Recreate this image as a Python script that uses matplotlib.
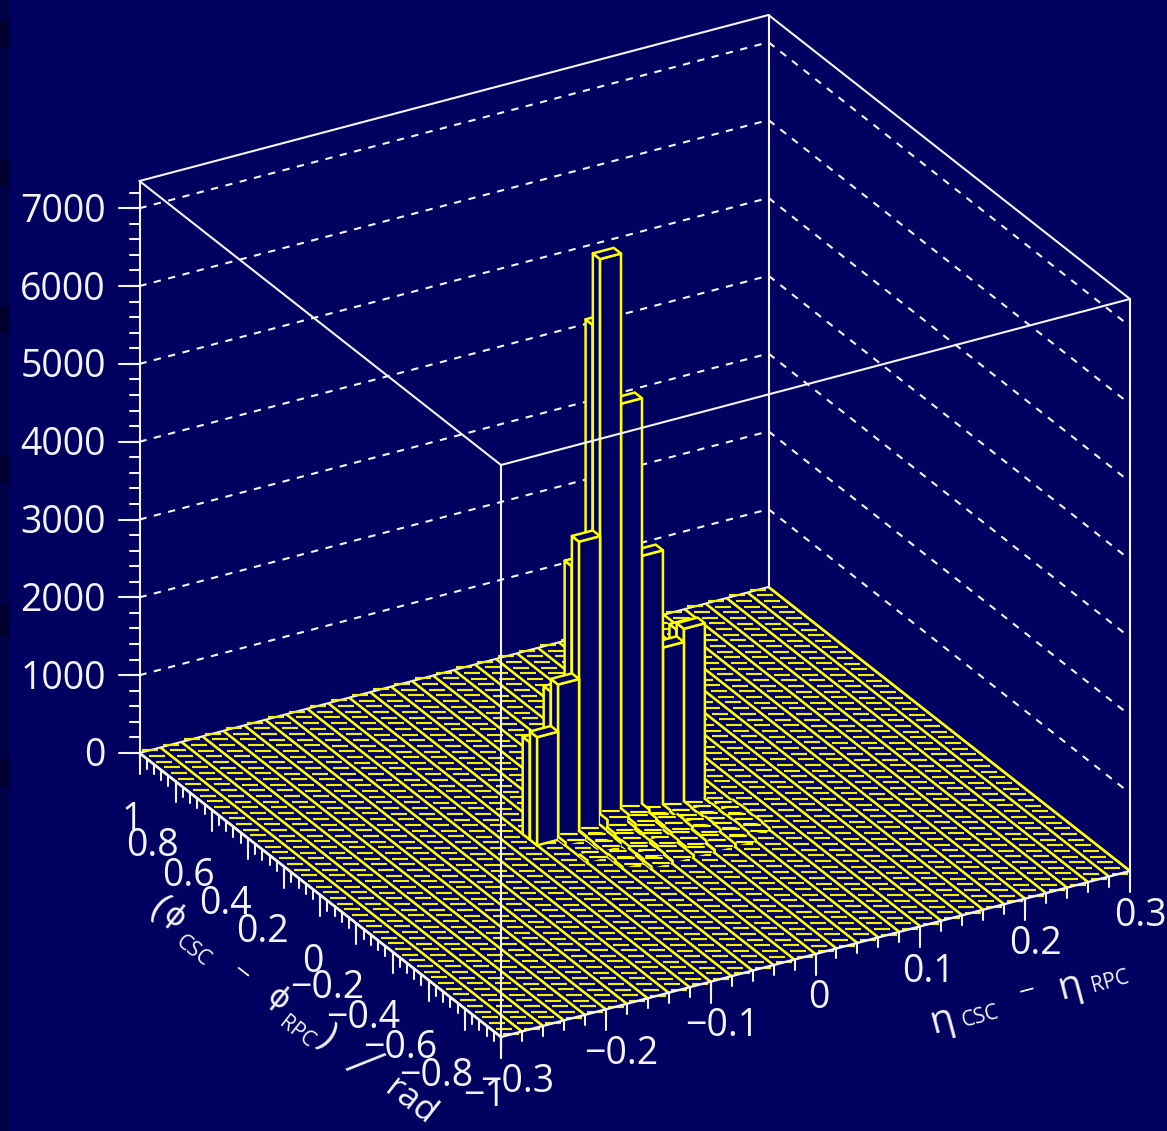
import numpy as np
import matplotlib
matplotlib.use("Agg")
import matplotlib.pyplot as plt
from matplotlib.collections import LineCollection, PolyCollection

# bins of the lego plot
eta_edges = [-0.3 + 0.02 * i for i in range(31)]
phi_edges = [-1 + 0.04 * i for i in range(51)]
z_top = 7350

# tall towers: phi bin -> contents, starting from eta bin 10
tower_first_eta = 10
tower_rows = {
    25: [1250, 1830, 3370, 6400, 4200, 2600, 1500, 2200],
    24: [1390, 1995, 3760, 7320, 5390, 3365, 2115, 2285],
}

# small contents in front of the towers, starting from eta bin 11
low_first_eta = 11
low_rows = {
    23: [40, 50, 190, 180, 100, 70, 30, 0],
    22: [0, 40, 90, 140, 80, 60, 40, 20],
    21: [0, 30, 60, 90, 120, 70, 30, 30],
    20: [30, 0, 70, 60, 110, 90, 40, 20],
    19: [0, 40, 40, 80, 70, 80, 50, 30],
    18: [0, 20, 50, 40, 70, 40, 40, 20],
    17: [0, 0, 30, 40, 30, 40, 20, 0],
}

z_major = [0, 1000, 2000, 3000, 4000, 5000, 6000, 7000]
z_minor = [200 * i for i in range(37)]
eta_major = [-0.3, -0.2, -0.1, 0, 0.1, 0.2, 0.3]
eta_minor = [-0.3 + 0.02 * i for i in range(31)]
phi_major = [-1, -0.8, -0.6, -0.4, -0.2, 0, 0.2, 0.4, 0.6, 0.8, 1]
phi_minor = [-1 + 0.04 * i for i in range(51)]

bg = "#000060"
white = "#f4f4ff"
yellow = "#ffff00"


def project(eta, phi, z=0):
    # parallel projection of the box onto the picture
    u = (eta + 0.3) / 0.6
    v = (phi + 1) / 2
    return 501 + 629 * u - 361.5 * v, 1037 - 166 * u - 284 * v - z * 572 / z_top


fig = plt.figure(figsize=(11.67, 11.31), dpi=100, facecolor=bg)
ax = fig.add_axes([0, 0, 1, 1])
ax.set_xlim(0, 1167)
ax.set_ylim(1131, 0)
ax.axis("off")
plt.rcParams["font.family"] = ["Open Sans", "DejaVu Sans"]

# dark strip on the left edge of the scan
ax.fill_between([0, 9], 0, 1131, color="#000048", lw=0)
for y0, y1 in [(22, 47), (159, 186), (307, 333), (456, 482), (606, 635), (759, 786)]:
    ax.fill_between([0, 9], y0, y1, color="#00002c", lw=0)


def line(p, q, **kw):
    kw.setdefault("color", white)
    kw.setdefault("lw", 1.5)
    ax.plot([p[0], q[0]], [p[1], q[1]], solid_capstyle="round", **kw)


# dashed lines on the back walls
for z in z_major[1:]:
    a = project(-0.3, 1, z)
    b = project(0.3, 1, z)
    c = project(0.3, -1, z)
    ax.plot([a[0], b[0], c[0]], [a[1], b[1], c[1]], color=white, lw=1.5,
            ls=(0, (3.5, 3.6)), dash_capstyle="butt", zorder=1)

# back edges of the box
line(project(0.3, 1), project(0.3, 1, z_top), zorder=1)
line(project(-0.3, 1), project(0.3, 1), zorder=1)
line(project(0.3, 1), project(0.3, -1), zorder=1)
line(project(-0.3, 1), project(-0.3, 1, z_top), zorder=1)
line(project(0.3, -1), project(0.3, -1, z_top), zorder=1)
line(project(-0.3, 1, z_top), project(0.3, 1, z_top), zorder=1)
line(project(0.3, 1, z_top), project(0.3, -1, z_top), zorder=1)

# empty bins: solid lines along phi, short flat dashes along eta
phi_lines = [[project(e, -1), project(e, 1)] for e in eta_edges]
ax.add_collection(LineCollection(phi_lines, colors=yellow, linewidths=1.9, zorder=2))
dashes = []
for i in range(30):
    mid = (eta_edges[i] + eta_edges[i + 1]) / 2
    for p in phi_edges:
        x, y = project(mid, p)
        dashes.append([(x - 8, y), (x + 8, y)])
ax.add_collection(LineCollection(dashes, colors="#f0f000", linewidths=1.55, zorder=2))

# towers, painted from the back to the front
polys = []
for row in sorted(tower_rows, reverse=True):
    vals = tower_rows[row]
    for k in range(len(vals) - 1, -1, -1):
        z = vals[k]
        e0, e1 = eta_edges[tower_first_eta + k], eta_edges[tower_first_eta + k + 1]
        p0, p1 = phi_edges[row], phi_edges[row + 1]
        polys.append([project(e0, p0), project(e0, p1), project(e0, p1, z), project(e0, p0, z)])
        polys.append([project(e0, p0), project(e1, p0), project(e1, p0, z), project(e0, p0, z)])
        polys.append([project(e0, p0, z), project(e1, p0, z), project(e1, p1, z), project(e0, p1, z)])
ax.add_collection(PolyCollection(polys, facecolors=bg, edgecolors=yellow, linewidths=1.8, zorder=3))

# low bins: lifted grid cells which keep the look of the empty ones
order = 4
for row in sorted(low_rows, reverse=True):
    vals = low_rows[row]
    for k in range(len(vals) - 1, -1, -1):
        z = vals[k]
        if z == 0:
            continue
        e0, e1 = eta_edges[low_first_eta + k], eta_edges[low_first_eta + k + 1]
        p0, p1 = phi_edges[row], phi_edges[row + 1]
        outline = [project(e0, p0), project(e0, p1), project(e0, p1, z), project(e1, p1, z),
                   project(e1, p0, z), project(e1, p0)]
        ax.fill([c[0] for c in outline], [c[1] for c in outline], color=bg, lw=0, zorder=order)
        line(project(e0, p0), project(e0, p0, z), color=yellow, lw=1.9, zorder=order)
        line(project(e1, p0), project(e1, p0, z), color=yellow, lw=1.9, zorder=order)
        line(project(e0, p0, z), project(e0, p1, z), color=yellow, lw=1.9, zorder=order)
        line(project(e1, p0, z), project(e1, p1, z), color=yellow, lw=1.9, zorder=order)
        x, y = project((e0 + e1) / 2, p0, z)
        line((x - 8, y), (x + 8, y), color=yellow, lw=1.55, zorder=order)
        x, y = project((e0 + e1) / 2, p1, z)
        line((x - 8, y), (x + 8, y), color=yellow, lw=1.55, zorder=order)
        order += 0.01

# front edges of the box go over the plot
line(project(-0.3, -1), project(-0.3, -1, z_top), zorder=5)
line(project(-0.3, -1, z_top), project(0.3, -1, z_top), zorder=5)
line(project(-0.3, -1, z_top), project(-0.3, 1, z_top), zorder=5)
line(project(-0.3, -1), project(0.3, -1), zorder=5, lw=1.7)
line(project(-0.3, -1), project(-0.3, 1), zorder=5, lw=1.7)

# ticks
for z in z_minor:
    x, y = project(-0.3, 1, z)
    line((x - 10, y), (x, y), zorder=5)
for z in z_major:
    x, y = project(-0.3, 1, z)
    line((x - 21, y), (x, y), zorder=5)
for e in eta_minor:
    x, y = project(e, -1)
    line((x, y), (x, y + 10), zorder=5)
for e in eta_major:
    x, y = project(e, -1)
    line((x, y), (x, y + 21), zorder=5)
for p in phi_minor:
    x, y = project(-0.3, p)
    line((x, y), (x, y + 10), zorder=5)
for p in phi_major:
    x, y = project(-0.3, p)
    line((x, y), (x, y + 21), zorder=5)

tick_font = dict(color=white, fontsize=27, zorder=6)

# tick labels
z_label_y = [project(-0.3, 1, z)[1] for z in z_major]
for z, y in zip(z_major, z_label_y):
    ax.text(106, y - 1, str(z), ha="right", va="center_baseline", **tick_font)

phi_labels = ["1", "0.8", "0.6", "0.4", "0.2", "0", "\u22120.2", "\u22120.4", "\u22120.6", "\u22120.8", "\u22121"]
phi_label_x = [132, 152, 188, 225, 262, 313, 327, 363, 400, 436, 485]
phi_label_y = [815, 842, 871, 900, 928, 957, 984, 1013, 1043, 1072, 1092]
for s, x, y in zip(phi_labels, phi_label_x, phi_label_y):
    ax.text(x, y, s, ha="center", va="center_baseline", **tick_font)

eta_labels = ["\u22120.3", "\u22120.2", "\u22120.1", "0", "0.1", "0.2", "0.3"]
eta_label_x = [517, 621, 722, 819, 928, 1035, 1140]
eta_label_y = [1077, 1049, 1022, 994, 967, 939, 912]
for s, x, y in zip(eta_labels, eta_label_x, eta_label_y):
    ax.text(x, y, s, ha="center", va="center_baseline", **tick_font)

# axis titles, written piece by piece like the original
phi_title = ["(", "\u03d5", "CSC", "\u2212", "\u03d5", "RPC", ")", "rad"]
phi_title_x = [158, 174, 193, 241, 278, 297, 327, 410]
phi_title_y = [908, 917, 951, 973, 999, 1032, 1038, 1102]
phi_title_size = [27, 22, 15, 21, 22, 15, 27, 25]
for s, x, y, size in zip(phi_title, phi_title_x, phi_title_y, phi_title_size):
    ax.text(x, y, s, rotation=-38, rotation_mode="anchor", ha="center", va="center",
            color=white, fontsize=size, zorder=6)
ax.text(360, 1065, "/", rotation=-48, rotation_mode="anchor", ha="center", va="center",
        color=white, fontsize=40, fontweight="light", zorder=6)

eta_title = ["\u03b7", "CSC", "\u2212", "\u03b7", "RPC"]
eta_title_x = [942, 981, 1027, 1070, 1110]
eta_title_y = [1021, 1017, 991, 987, 982]
eta_title_size = [28, 15, 21, 28, 15]
for s, x, y, size in zip(eta_title, eta_title_x, eta_title_y, eta_title_size):
    ax.text(x, y, s, rotation=15, rotation_mode="anchor", ha="center", va="center",
            color=white, fontsize=size, zorder=6)

fig.savefig("out.png", dpi=100, facecolor=bg)
